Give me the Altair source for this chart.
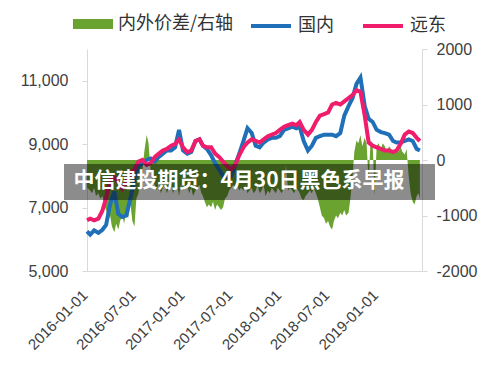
import altair as alt
import pandas as pd

# ---------------- data ----------------
months = pd.date_range("2016-01-01", "2019-05-01", freq="MS")
line_dates = ["2015-12-20"] + [m.strftime("%Y-%m-") + d for m in months for d in ("01", "16")] + ["2019-05-28"]
area_dates = ["2015-12-20"] + [m.strftime("%Y-%m-") + d for m in months for d in ("01", "08", "16", "23")] + ["2019-05-28"]

domestic = [6250,
            6150, 6280, 6200, 6300, 6450, 7100, 7500, 6800, 6700, 6750, 7300, 7900,
            8300, 8400, 8500, 8550, 8450, 8600, 8700, 8800, 8800, 8900, 9450, 8800,
            8700, 8750, 9100, 9150, 8950, 8850, 8650, 8400, 8200, 8000, 7950, 8000,
            8350, 8700, 9100, 9500, 9350, 8950, 8900, 9050, 9150, 9200, 9200, 9250,
            9450, 9500, 9550, 9500, 9550, 9100, 8800, 8950, 9200, 9250, 9300, 9300,
            9300, 9250, 9350, 9900, 10200, 10450, 10900, 11100, 10200, 9800, 9700, 9450,
            9380, 9350, 9300, 9100, 9050, 9050, 9100, 9150, 9100, 8850,
            8800]

far_east = [6600,
            6650, 6600, 6650, 6900, 7300, 7870, 7950, 7800, 7600, 7800, 8100, 8200,
            8450, 8500, 8350, 8400, 8600, 8700, 8800, 8850, 8950, 9000, 9150, 8900,
            8750, 8800, 9100, 9150, 8950, 8900, 8900, 8700, 8600, 8450, 8300, 8200,
            8350, 8650, 8900, 9050, 9150, 9100, 9050, 9150, 9250, 9300, 9350, 9450,
            9550, 9600, 9650, 9600, 9700, 9450, 9300, 9450, 9700, 9900, 9950, 10000,
            10250, 10300, 10250, 10350, 10450, 10550, 10700, 10650, 9900, 9050, 8950, 8900,
            8850, 8800, 8800, 8750, 8800, 9000, 9300, 9400, 9350, 9200,
            9100]

spread = [-500,
          -550, -600, -500, -650, -600, -700, -650, -800, -900, -1100, -1000, -1200,
          -1300, -1150, -1250, -1100, -1000, -1150, -900, -1050, -800, -1100, -1200, -700,
          -600, -400, -200, 150, 450, 300, -200, -400, -450, -550, -400, -600,
          -500, -450, -600, -500, -450, -600, -500, -400, -650, -450, -550, -500,
          -450, -600, -500, -650, -550, -500, -450, -600, -650, -750, -850, -800,
          -850, -750, -900, -800, -850, -900, -850, -700, -650, -550, -500, -450,
          -500, -450, -550, -500, -550, -450, -600, -550, -500, -600, -550, -450,
          -600, -550, -450, -650, -550, -600, -500, -550, -600, -500, -550, -600,
          -500, -100, -550, -500, -550, -600, -500, -550, -600, -700, -720, -650,
          -600, -550, -600, -500, -600, -700, -850, -1000, -1050, -1150, -1100, -1200,
          -1250, -1100, -1000, -1050, -950, -1000, -900, -1000, -950, -700, -300, 150,
          350, 300, 450, 250, 400, 300, -400, 350, 300, -650, 250, 300,
          200, 300, 250, 150, 250, 200, 150, 200, 200, 150, 250, 150,
          100, 200, -300, -600, -750, -800, -650, -600,
          -700]

series_names = ["国内", "远东"]
spread_name = "内外价差/右轴"
colors = {"green": "#6AA330", "blue": "#1F70B8", "pink": "#F01C6C"}
banner_text = "中信建投期货：4月30日黑色系早报"

lines_df = pd.DataFrame({
    "date": line_dates * 2,
    "value": domestic + far_east,
    "series": [series_names[0]] * len(line_dates) + [series_names[1]] * len(line_dates),
})
area_df = pd.DataFrame({"date": area_dates, "gap": spread, "series": spread_name})

# ---------------- chart ----------------
x_enc = alt.X(
    "date:T",
    scale=alt.Scale(domain=[alt.DateTime(year=2015, month=12, date=20),
                            alt.DateTime(year=2019, month=6, date=5)]),
    axis=alt.Axis(
        title=None, grid=False, ticks=False, tickSize=0,
        values=[alt.DateTime(year=y, month=m, date=1) for y, m in
                [(2016, 1), (2016, 7), (2017, 1), (2017, 7), (2018, 1), (2018, 7), (2019, 1)]],
        format="%Y-%m-%d", labelAngle=-45, labelAlign="right", labelBaseline="bottom",
        labelPadding=27, labelFontSize=15, labelFont="Liberation Sans", labelColor="#404040",
        domainColor="#d9d9d9", labelOverlap=False,
    ),
)

area = alt.Chart(area_df).mark_area(interpolate="linear").encode(
    x=x_enc,
    y=alt.Y("gap:Q", scale=alt.Scale(domain=[-2000, 2000]),
            axis=alt.Axis(orient="right", title=None, grid=False,
                          values=[-2000, -1000, 0, 1000, 2000],
                          labelExpr="'' + datum.value",
                          labelFontSize=16, labelFont="Liberation Sans", labelColor="#404040",
                          domainColor="#d9d9d9", tickColor="#d9d9d9", tickSize=5, labelPadding=9)),
    fill=alt.Fill("series:N",
                  scale=alt.Scale(domain=[spread_name], range=[colors["green"]]),
                  legend=alt.Legend(title=None, orient="none", legendX=-14, legendY=-45,
                                    symbolType="M-1,-0.25H1V0.25H-1Z", symbolSize=1600,
                                    symbolStrokeWidth=0, labelFontSize=18,
                                    labelFont="Noto Sans CJK SC", labelColor="#333333",
                                    labelOffset=5, padding=0)),
)

lines = alt.Chart(lines_df).mark_line(strokeWidth=4).encode(
    x=x_enc,
    y=alt.Y("value:Q", scale=alt.Scale(domain=[5000, 12000]),
            axis=alt.Axis(orient="left", title=None, grid=False,
                          values=[5000, 7000, 9000, 11000], format=",.0f",
                          labelFontSize=16, labelFont="Liberation Sans", labelColor="#404040",
                          domainColor="#d9d9d9", tickColor="#d9d9d9", tickSize=5, labelPadding=14)),
    stroke=alt.Stroke("series:N",
                      scale=alt.Scale(domain=series_names, range=[colors["blue"], colors["pink"]]),
                      legend=alt.Legend(title=None, orient="none", legendX=162, legendY=-45,
                                        direction="horizontal", symbolType="stroke",
                                        symbolSize=1600, symbolStrokeWidth=4,
                                        labelFontSize=18, labelFont="Noto Sans CJK SC",
                                        labelColor="#333333", labelOffset=5,
                                        columnPadding=21, padding=0)),
    order=alt.Order("series:N"),
)

one = pd.DataFrame({"k": [0]})
banner = alt.Chart(one).mark_rect(color="black", opacity=0.45).encode(
    x=alt.value(-23), x2=alt.value(348), y=alt.value(115), y2=alt.value(151)
)
banner_label = alt.Chart(one).mark_text(
    text=banner_text, font="Noto Sans CJK SC", fontWeight="bold", fontSize=21,
    color="white", align="center", baseline="middle"
).encode(x=alt.value(152), y=alt.value(132))

chart = alt.layer(area, lines, banner, banner_label).resolve_scale(
    y="independent"
).properties(
    width=335, height=222,
    padding={"left": 79, "top": 41, "right": 70, "bottom": 87},
    autosize=alt.AutoSizeParams(type="none"),
    background="white",
).configure_view(strokeWidth=0)

chart.save("out.html", embed_options={"renderer": "svg", "actions": False})
